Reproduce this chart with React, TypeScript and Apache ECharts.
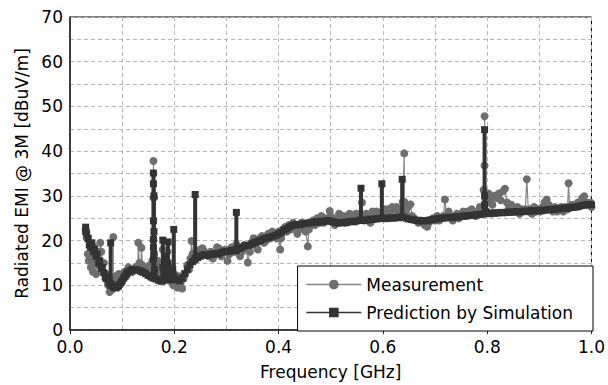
import React, { useEffect, useRef } from "react";
import * as echarts from "echarts";

const xTicks = [0, 0.2, 0.4, 0.6, 0.8, 1.0];
const yTicks = [0, 10, 20, 30, 40, 50, 60, 70];

const measurement: [number, number][] = [
  [0.030,22.5],[0.032,20.5],[0.034,17.0],[0.036,15.5],[0.038,19.0],[0.040,14.0],[0.042,16.5],[0.044,13.0],[0.046,18.5],[0.048,15.0],
  [0.050,12.5],[0.052,17.5],[0.055,14.5],[0.058,19.5],[0.060,17.5],[0.062,13.0],[0.065,15.0],[0.068,11.5],[0.070,12.5],[0.073,10.0],
  [0.076,8.5],[0.078,10.5],[0.080,9.0],[0.083,10.0],[0.083,20.8],[0.083,11.5],[0.086,10.5],[0.088,12.0],[0.090,11.0],[0.093,12.5],
  [0.096,11.5],[0.100,12.5],[0.104,13.0],[0.108,12.0],[0.112,14.0],[0.116,13.5],[0.120,13.0],[0.125,14.0],[0.130,13.5],[0.131,19.5],
  [0.133,15.0],[0.136,13.0],[0.137,18.4],[0.139,14.5],[0.142,13.0],[0.145,14.0],[0.148,12.5],[0.150,13.5],[0.153,14.5],[0.156,12.0],
  [0.158,15.5],[0.160,14.0],[0.160,20.0],[0.160,29.6],[0.160,37.8],[0.161,29.6],[0.161,17.0],[0.162,14.5],[0.165,13.0],[0.168,15.5],
  [0.170,12.5],[0.173,14.0],[0.175,11.5],[0.178,18.0],[0.180,13.0],[0.182,16.0],[0.185,12.5],[0.187,17.5],[0.190,14.0],[0.192,11.0],
  [0.195,13.5],[0.198,10.0],[0.200,12.5],[0.203,11.0],[0.206,9.5],[0.209,12.0],[0.212,10.5],[0.215,9.3],[0.218,11.5],[0.221,12.5],
  [0.225,14.5],[0.228,13.5],[0.231,16.0],[0.233,19.9],[0.235,17.0],[0.238,15.5],[0.242,16.5],[0.246,17.5],[0.250,18.0],[0.254,18.3],
  [0.258,17.5],[0.262,17.0],[0.266,16.5],[0.270,17.5],[0.274,16.0],[0.278,17.0],[0.282,18.5],[0.286,18.2],[0.290,16.5],[0.294,17.5],
  [0.298,18.0],[0.302,15.5],[0.306,17.0],[0.310,18.5],[0.315,17.5],[0.319,19.2],[0.322,18.5],[0.326,16.5],[0.330,17.5],[0.334,19.0],
  [0.338,18.5],[0.341,15.1],[0.345,17.5],[0.348,19.5],[0.352,20.5],[0.356,19.0],[0.360,18.0],[0.364,20.5],[0.368,21.0],[0.372,19.5],
  [0.376,20.0],[0.380,21.5],[0.384,20.5],[0.388,22.0],[0.392,21.0],[0.396,20.5],[0.400,22.0],[0.403,18.0],[0.405,20.5],[0.408,22.5],
  [0.412,23.0],[0.416,22.0],[0.420,23.5],[0.424,22.5],[0.428,24.0],[0.432,23.0],[0.436,21.5],[0.440,23.0],[0.444,24.0],[0.448,22.5],
  [0.452,22.0],[0.456,18.7],[0.458,22.5],[0.462,23.5],[0.466,24.5],[0.470,23.5],[0.474,25.0],[0.478,24.0],[0.482,25.5],[0.486,24.0],
  [0.490,25.0],[0.494,24.5],[0.498,26.6],[0.500,25.5],[0.504,24.0],[0.508,23.5],[0.512,25.0],[0.516,26.0],[0.520,24.5],[0.524,25.5],
  [0.528,24.0],[0.532,25.5],[0.536,26.0],[0.540,25.0],[0.544,24.5],[0.548,26.0],[0.552,25.0],[0.556,26.0],[0.560,28.5],[0.560,25.5],
  [0.564,24.5],[0.568,26.0],[0.572,25.5],[0.576,24.0],[0.580,26.5],[0.584,25.0],[0.588,26.5],[0.592,25.0],[0.596,26.0],[0.600,25.5],
  [0.603,27.0],[0.606,26.5],[0.610,27.0],[0.614,26.5],[0.618,27.5],[0.622,27.0],[0.626,27.5],[0.630,26.5],[0.634,27.0],[0.638,28.7],
  [0.641,39.5],[0.641,28.7],[0.644,26.5],[0.648,27.5],[0.653,28.1],[0.656,25.5],[0.660,25.0],[0.664,24.5],[0.668,24.0],[0.672,24.5],
  [0.676,24.0],[0.680,23.5],[0.685,23.1],[0.688,24.0],[0.692,24.5],[0.696,25.0],[0.700,24.5],[0.704,25.5],[0.708,24.5],[0.712,25.0],
  [0.716,25.5],[0.719,29.2],[0.722,25.5],[0.726,26.5],[0.730,25.5],[0.734,24.5],[0.738,25.5],[0.742,26.0],[0.746,25.0],[0.750,25.5],
  [0.754,26.5],[0.758,25.5],[0.762,26.5],[0.766,26.0],[0.770,27.0],[0.774,26.0],[0.778,25.5],[0.782,26.5],[0.786,27.5],[0.790,26.5],
  [0.793,31.3],[0.795,36.8],[0.795,47.8],[0.797,30.5],[0.800,28.5],[0.803,30.5],[0.806,29.0],[0.810,28.0],[0.814,30.0],[0.818,29.5],
  [0.822,30.5],[0.826,29.0],[0.830,31.0],[0.834,31.6],[0.838,28.5],[0.842,27.5],[0.846,28.0],[0.850,27.0],[0.854,26.5],[0.858,27.5],
  [0.862,26.0],[0.866,27.0],[0.870,26.5],[0.873,27.0],[0.876,33.7],[0.879,26.5],[0.882,27.0],[0.886,26.0],[0.890,27.5],[0.894,26.5],
  [0.898,27.0],[0.902,26.5],[0.906,27.5],[0.910,28.5],[0.914,29.2],[0.918,28.0],[0.922,27.0],[0.926,26.5],[0.930,27.5],[0.934,26.5],
  [0.938,27.0],[0.942,27.5],[0.946,26.5],[0.950,27.5],[0.954,27.0],[0.956,32.8],[0.958,27.5],[0.962,28.0],[0.966,27.5],[0.970,28.0],
  [0.974,28.5],[0.978,28.0],[0.982,29.5],[0.986,29.9],[0.990,28.5],[0.994,28.0],[0.998,28.5],[1.000,27.5],
];

const prediction: [number, number][] = [
  [0.030,23.0],[0.030,22.0],[0.032,21.5],[0.035,20.5],[0.037,19.0],[0.040,18.5],[0.042,19.5],[0.045,17.5],[0.047,18.0],[0.050,16.5],
  [0.052,17.0],[0.055,15.0],[0.057,15.5],[0.060,13.8],[0.062,14.0],[0.065,12.8],[0.068,12.0],[0.070,11.5],[0.073,11.0],[0.075,10.5],
  [0.078,10.3],[0.078,19.5],[0.078,10.0],[0.080,10.0],[0.083,9.6],[0.085,9.5],[0.088,9.4],[0.090,9.6],[0.093,9.8],[0.095,10.2],
  [0.098,10.6],[0.100,11.0],[0.103,11.6],[0.105,12.0],[0.108,12.5],[0.110,12.8],[0.113,13.0],[0.115,13.2],[0.118,13.4],[0.120,13.5],
  [0.125,13.5],[0.130,13.4],[0.135,13.2],[0.140,13.0],[0.145,12.6],[0.150,12.2],[0.155,11.9],[0.158,11.8],[0.160,11.6],[0.160,15.8],
  [0.160,18.5],[0.160,20.3],[0.160,24.4],[0.160,32.7],[0.160,35.1],[0.161,30.0],[0.161,22.0],[0.161,17.0],[0.162,13.5],[0.165,11.4],
  [0.170,11.1],[0.175,10.9],[0.178,11.0],[0.178,20.1],[0.178,14.0],[0.180,12.5],[0.183,13.5],[0.185,16.5],[0.186,12.0],[0.188,13.0],
  [0.188,19.7],[0.188,15.0],[0.190,11.2],[0.193,12.5],[0.195,11.3],[0.197,13.5],[0.199,11.5],[0.199,22.5],[0.199,12.0],[0.200,11.6],
  [0.205,11.2],[0.210,11.0],[0.215,11.6],[0.220,12.6],[0.225,13.6],[0.230,14.6],[0.235,15.3],[0.240,15.8],[0.240,30.3],[0.240,16.0],
  [0.245,16.2],[0.250,16.5],[0.255,16.8],[0.260,16.8],[0.265,16.7],[0.270,16.9],[0.275,17.0],[0.280,17.1],[0.285,17.0],[0.290,17.3],
  [0.295,17.5],[0.300,17.5],[0.305,17.6],[0.310,17.8],[0.315,17.7],[0.319,17.8],[0.319,26.3],[0.319,18.0],[0.325,18.2],[0.330,18.5],
  [0.335,18.8],[0.340,18.9],[0.345,19.0],[0.350,19.3],[0.355,19.6],[0.360,19.8],[0.365,20.0],[0.370,20.3],[0.375,20.5],[0.380,20.7],
  [0.385,20.8],[0.390,21.0],[0.395,21.2],[0.400,21.5],[0.405,21.8],[0.410,22.3],[0.415,22.6],[0.420,23.0],[0.425,23.3],[0.430,23.5],
  [0.435,23.6],[0.440,23.5],[0.445,23.7],[0.450,23.8],[0.455,23.9],[0.460,24.0],[0.465,24.0],[0.470,24.2],[0.475,24.1],[0.480,24.3],
  [0.485,24.2],[0.490,24.4],[0.495,24.5],[0.500,24.3],[0.505,24.2],[0.510,24.0],[0.515,23.9],[0.520,24.0],[0.525,24.1],[0.530,24.0],
  [0.535,24.2],[0.540,24.3],[0.545,24.2],[0.550,24.4],[0.558,24.5],[0.558,31.7],[0.558,24.6],[0.565,24.5],[0.570,24.6],[0.575,24.8],
  [0.580,24.7],[0.585,24.8],[0.590,24.9],[0.598,25.0],[0.598,32.7],[0.598,25.0],[0.605,24.9],[0.610,25.0],[0.615,25.1],[0.620,25.0],
  [0.625,25.2],[0.630,25.1],[0.637,25.2],[0.637,33.7],[0.637,25.3],[0.645,25.0],[0.650,24.8],[0.655,24.7],[0.660,24.6],[0.665,24.5],
  [0.670,24.4],[0.675,24.4],[0.680,24.5],[0.685,24.4],[0.690,24.6],[0.695,24.7],[0.700,24.8],[0.705,24.9],[0.710,25.0],[0.715,25.0],
  [0.720,25.1],[0.725,25.2],[0.730,25.1],[0.735,25.2],[0.740,25.3],[0.745,25.3],[0.750,25.4],[0.755,25.5],[0.760,25.5],[0.765,25.6],
  [0.770,25.6],[0.775,25.7],[0.780,25.8],[0.785,25.8],[0.790,25.9],[0.795,26.0],[0.795,28.0],[0.795,44.8],[0.795,30.0],[0.797,26.5],
  [0.800,26.1],[0.805,26.0],[0.810,26.2],[0.815,26.1],[0.820,26.2],[0.825,26.3],[0.830,26.2],[0.835,26.3],[0.840,26.4],[0.845,26.3],
  [0.850,26.4],[0.855,26.5],[0.860,26.4],[0.865,26.5],[0.870,26.6],[0.875,26.5],[0.880,26.6],[0.885,26.7],[0.890,26.6],[0.895,26.7],
  [0.900,26.8],[0.905,26.7],[0.910,26.8],[0.915,26.9],[0.920,26.9],[0.925,27.0],[0.930,27.0],[0.935,27.1],[0.940,27.1],[0.945,27.2],
  [0.950,27.3],[0.955,27.2],[0.960,27.4],[0.965,27.5],[0.970,27.5],[0.975,27.6],[0.980,27.8],[0.985,27.9],[0.990,28.0],[0.995,28.1],
  [1.000,28.0],
];

const FONT = "DejaVu Sans";

export default function App() {
  const ref = useRef<HTMLDivElement>(null);
  useEffect(() => {
    document.body.style.margin = "0";
    if (!ref.current) return;
    const chart = echarts.init(ref.current, null, { renderer: "svg" });
    const dashed = { show: true, lineStyle: { color: "#b8b8b8", type: [4, 3] as any, width: 1 } };
    chart.setOption({
      animation: false,
      backgroundColor: "#ffffff",
      grid: { left: 70, right: 15, top: 17, bottom: 54, show: true, borderColor: "#000", borderWidth: 1, backgroundColor: "transparent" },
      xAxis: {
        type: "value",
        min: xTicks[0],
        max: xTicks[xTicks.length - 1],
        interval: 0.2,
        name: "Frequency [GHz]",
        nameLocation: "middle",
        nameGap: 33,
        nameTextStyle: { fontSize: 17, color: "#000", fontFamily: FONT },
        axisLine: { show: true, lineStyle: { color: "#222", width: 1.5 } },
        axisTick: { show: true, inside: false, length: 4, lineStyle: { color: "#222" } },
        axisLabel: { fontSize: 17, color: "#000", fontFamily: FONT, margin: 8, formatter: (v: number) => v.toFixed(1) },
        splitLine: dashed,
        minorTick: { show: false, splitNumber: 2 },
        minorSplitLine: dashed,
      },
      yAxis: {
        type: "value",
        min: yTicks[0],
        max: yTicks[yTicks.length - 1],
        interval: 10,
        name: "Radiated EMI @ 3M [dBuV/m]",
        nameLocation: "middle",
        nameGap: 40,
        nameTextStyle: { fontSize: 17, color: "#000", fontFamily: FONT },
        axisLine: { show: true, lineStyle: { color: "#222", width: 1.5 } },
        axisTick: { show: false },
        axisLabel: { fontSize: 17, color: "#000", fontFamily: FONT, margin: 7 },
        splitLine: dashed,
        minorTick: { show: false, splitNumber: 2 },
        minorSplitLine: dashed,
      },
      legend: {
        right: 15,
        bottom: 54,
        orient: "vertical",
        backgroundColor: "#fff",
        borderColor: "#000",
        borderWidth: 1,
        borderRadius: 0,
        padding: [10, 20, 10, 8],
        itemWidth: 55,
        itemHeight: 12,
        itemGap: 11,
        lineStyle: { width: 1.5 },
        textStyle: { fontSize: 17, color: "#000", fontFamily: FONT },
        data: ["Measurement", "Prediction by Simulation"],
      },
      series: [
        {
          name: "Measurement",
          type: "line",
          data: measurement,
          symbol: "circle",
          symbolSize: 8,
          showAllSymbol: true,
          itemStyle: { color: "#6e6e6e" },
          lineStyle: { color: "#858585", width: 1.2 },
          z: 2,
        },
        {
          name: "Prediction by Simulation",
          type: "line",
          data: prediction,
          symbol: "rect",
          symbolSize: 7,
          showAllSymbol: true,
          itemStyle: { color: "#333333" },
          lineStyle: { color: "#333333", width: 4 },
          z: 3,
        },
      ],
    });
    return () => chart.dispose();
  }, []);
  return <div ref={ref} style={{ width: 608, height: 385 }} />;
}
